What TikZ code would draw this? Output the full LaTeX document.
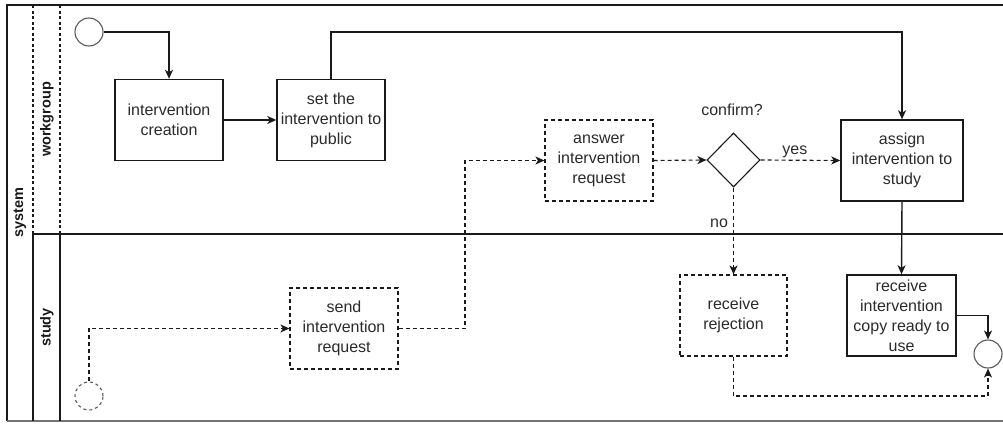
\documentclass[tikz,border=0pt]{standalone}
\usepackage{fontspec}
\setmainfont{Liberation Sans}
\usetikzlibrary{arrows.meta,shapes.geometric}

\definecolor{ink}{HTML}{1A1A1A}
\definecolor{txt}{HTML}{2B2B2B}

\tikzset{
  every node/.style={text=txt},
  lbl/.style={font=\fontsize{16}{20}\selectfont},
  task/.style={draw=ink, line width=1.4pt, fill=white, align=center, lbl,
    inner sep=0pt, minimum width=108pt, minimum height=81pt},
  dtask/.style={task, line width=1.15pt, dash pattern=on 4pt off 3pt},
  event/.style={circle, draw=black!65, line width=1.1pt, inner sep=0pt, minimum size=28pt},
  gate/.style={diamond, draw=ink, line width=1.1pt, inner sep=0pt, minimum width=53pt, minimum height=54pt},
  flow/.style={draw=ink, line width=1.4pt, -{Stealth[length=9pt,width=8pt,inset=2.5pt]}},
  dflow/.style={flow, line width=1.15pt, dash pattern=on 4pt off 3pt},
  lane/.style={font=\bfseries\fontsize{14.5}{17}\selectfont, rotate=90, text=ink},
  edgelbl/.style={lbl, inner sep=2pt}
}

\begin{document}
\begin{tikzpicture}[x=1pt,y=-1pt]
\useasboundingbox (0,0) rectangle (1003,423);

% pool frame and lane dividers
\draw[ink, line width=1.4pt] (1003,5) -- (7,5) -- (7,421);
\draw[black!55, line width=1.3pt] (7,421) -- (1003,421);
\draw[ink, line width=1.4pt] (33,234) -- (1003,234);
\draw[ink, line width=1.1pt, dash pattern=on 3pt off 2.5pt] (33,5) -- (33,234);
\draw[ink, line width=1.1pt, dash pattern=on 3pt off 2.5pt] (60,5) -- (60,234);
\draw[ink, line width=1.4pt] (33,234) -- (33,421);
\draw[ink, line width=1.4pt] (60,234) -- (60,421);

% lane headers
\node[lane] (lsys) at (20,213) {system};
\node[lane] (lwork) at (47,119.5) {workgroup};
\node[lane] (lstudy) at (47,327.5) {study};

% events
\node[event] (s1) at (89,32) {};
\node[event, dash pattern=on 3pt off 3pt] (s2) at (89,396) {};
\node[event] (fin) at (988,354) {};

% tasks
\node[task] (create) at (169,120) {intervention\\creation};
\node[task] (setpub) at (331,120) {set the\\intervention to\\public};
\node[dtask] (answer) at (599,160.5) {answer\\intervention\\request};
\node[task, minimum width=122pt] (assign) at (902,160.5) {assign\\intervention to\\study};
\node[dtask] (send) at (344,328.5) {send\\intervention\\request};
\node[dtask, minimum width=107pt] (reject) at (733.5,315.5) {receive\\rejection};
\node[task, minimum width=109pt] (copy) at (901.5,315.5) {receive\\intervention\\copy ready to\\use};

% gateway
\node[gate] (dia) at (733.5,160) {};
\node[lbl] (confirm) at (732,110) {confirm?};

% helper coordinates for bends
\coordinate (lowrun) at (0,396);
\coordinate (midrun) at (465,0);

% flows in the workgroup lane
\draw[flow] (s1.east) -| (create.north);
\draw[flow] (create.east) -- (setpub.west);
\draw[flow] (setpub.north) -- (setpub.north |- s1.center) -| (assign.north);
\draw[dflow] (answer.east) -- (dia.west);
\draw[dflow] (dia.east) -- node[edgelbl, above, pos=0.43] (yes) {yes} (assign.west);
\draw[dflow] (dia.south) -- node[edgelbl, left, pos=0.41, xshift=-3pt] (no) {no} (reject.north);
\draw[flow] (assign.south) -- (copy.north);

% flows in the study lane
\draw[dflow] (s2.north) |- (send.west);
\draw[dflow] (send.east) -| (midrun |- answer.west) -- (answer.west);
\draw[flow] (copy.east) -| (fin.north);
\draw[dflow] (reject.south) -- (reject.south |- lowrun) -| (fin.south);
\end{tikzpicture}
\end{document}
